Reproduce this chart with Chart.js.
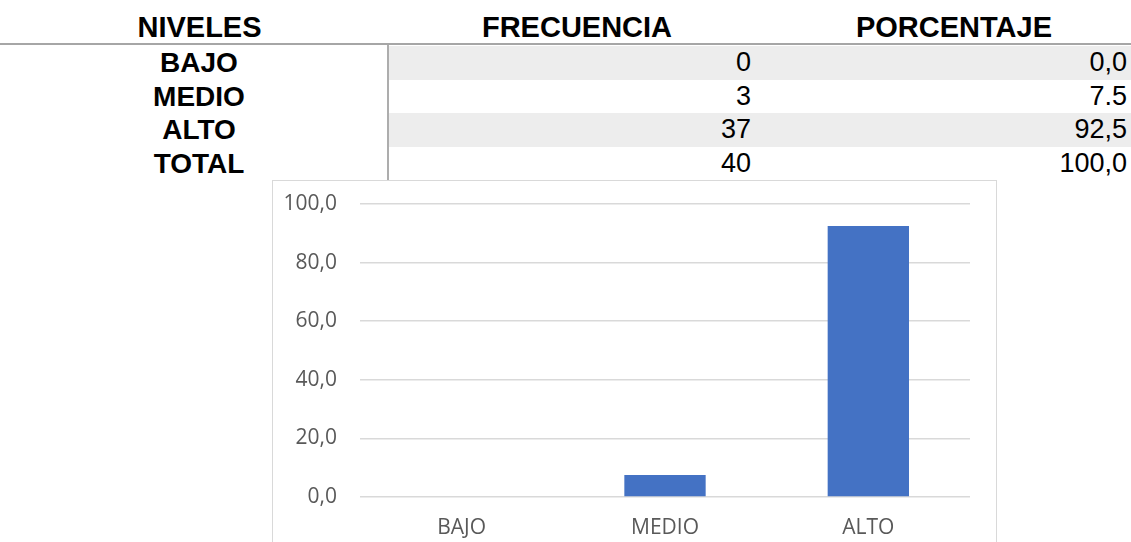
<!DOCTYPE html>
<html>
<head>
<meta charset="utf-8">
<script src="https://cdn.jsdelivr.net/npm/chart.js@4.4.1/dist/chart.umd.min.js"></script>
<style>
  html, body { margin: 0; padding: 0; background: #ffffff; }
  body { width: 1131px; height: 542px; position: relative; overflow: hidden; font-family: "Liberation Sans", Arial, sans-serif; }
  .abs { position: absolute; white-space: nowrap; }
  .hdr { font-weight: bold; font-size: 29px; line-height: 33px; color: #000; }
  .lbl { font-weight: bold; font-size: 28px; line-height: 33px; color: #000; width: 200px; text-align: center; }
  .val { font-size: 27px; line-height: 33.5px; color: #000; text-align: right; }
  #frame { position: absolute; left: 272px; top: 180px; width: 725px; height: 420px; border: 1px solid #d9d9d9; box-sizing: border-box; background: #fff; }
  #chart { position: absolute; left: 0; top: 0; }
</style>
</head>
<body>
<div id="table"></div>
<div id="frame"><canvas id="chart" width="723" height="361"></canvas></div>
<script>
// ---- Data ----
const headers = ['NIVELES', 'FRECUENCIA', 'PORCENTAJE'];
const niveles = ['BAJO', 'MEDIO', 'ALTO', 'TOTAL'];
const frecuencia = ['0', '3', '37', '40'];
const porcentajeText = ['0,0', '7.5', '92,5', '100,0'];
const categories = ['BAJO', 'MEDIO', 'ALTO'];
const porcentaje = [0.0, 7.5, 92.5];
const yTicks = [0, 20, 40, 60, 80, 100];
const yTickLabels = ['0,0', '20,0', '40,0', '60,0', '80,0', '100,0'];

// ---- Table (text layout) ----
const t = document.getElementById('table');
function el(cls, text, style) {
  const d = document.createElement('div');
  d.className = 'abs ' + cls;
  d.textContent = text;
  Object.assign(d.style, style);
  t.appendChild(d);
  return d;
}
// gray row backgrounds (BAJO, ALTO)
const rowTops = [46, 79.5, 113, 146.5];
[0, 2].forEach(i => {
  el('', '', { left: '389px', top: rowTops[i] + 'px', width: '742px', height: '33.5px', background: '#ededed' });
});
// header rule and vertical divider
el('', '', { left: '0px', top: '43px', width: '1131px', height: '2px', background: '#a6a6a6' });
el('', '', { left: '387px', top: '45px', width: '2px', height: '135px', background: '#adadad' });

// header labels (centered)
const hdrCenters = [199.5, 577, 954];
headers.forEach((h, i) => {
  el('hdr', h, { left: (hdrCenters[i] - 150) + 'px', top: '10.5px', width: '300px', textAlign: 'center' });
});
niveles.forEach((n, i) => {
  el('lbl', n, { left: '99px', top: rowTops[i] + 'px' });
  el('val', frecuencia[i], { right: '380px', top: rowTops[i] + 'px' });
  el('val', porcentajeText[i], { right: '4px', top: rowTops[i] + 'px' });
});

// ---- Chart ----
const labelColor = '#595959';
const gridColor = '#d9d9d9';
new Chart(document.getElementById('chart'), {
  type: 'bar',
  data: {
    labels: categories,
    datasets: [{
      data: porcentaje,
      backgroundColor: '#4472C4',
      borderWidth: 0,
      categoryPercentage: 1.0,
      barPercentage: 0.4
    }]
  },
  options: {
    responsive: false,
    devicePixelRatio: 1,
    animation: false,
    layout: { padding: { left: 0, right: 26, top: 23, bottom: 0 } },
    plugins: { legend: { display: false }, tooltip: { enabled: false } },
    scales: {
      x: {
        grid: { display: false, drawTicks: false },
        border: { display: false },
        ticks: { color: labelColor, font: { family: 'Open Sans', size: 21 }, padding: 18 },
        afterFit: s => { s.height = 45; }
      },
      y: {
        min: 0,
        max: 100,
        afterBuildTicks: s => { s.ticks = yTicks.map(v => ({ value: v })); },
        grid: { color: gridColor, lineWidth: 1.5, drawTicks: false },
        border: { display: false },
        ticks: {
          color: labelColor,
          font: { family: 'Open Sans', size: 21 },
          padding: 23,
          callback: v => yTickLabels[yTicks.indexOf(v)]
        },
        afterFit: s => { s.width = 87; s.paddingTop = 0; s.paddingBottom = 0; }
      }
    }
  }
});
</script>
</body>
</html>
